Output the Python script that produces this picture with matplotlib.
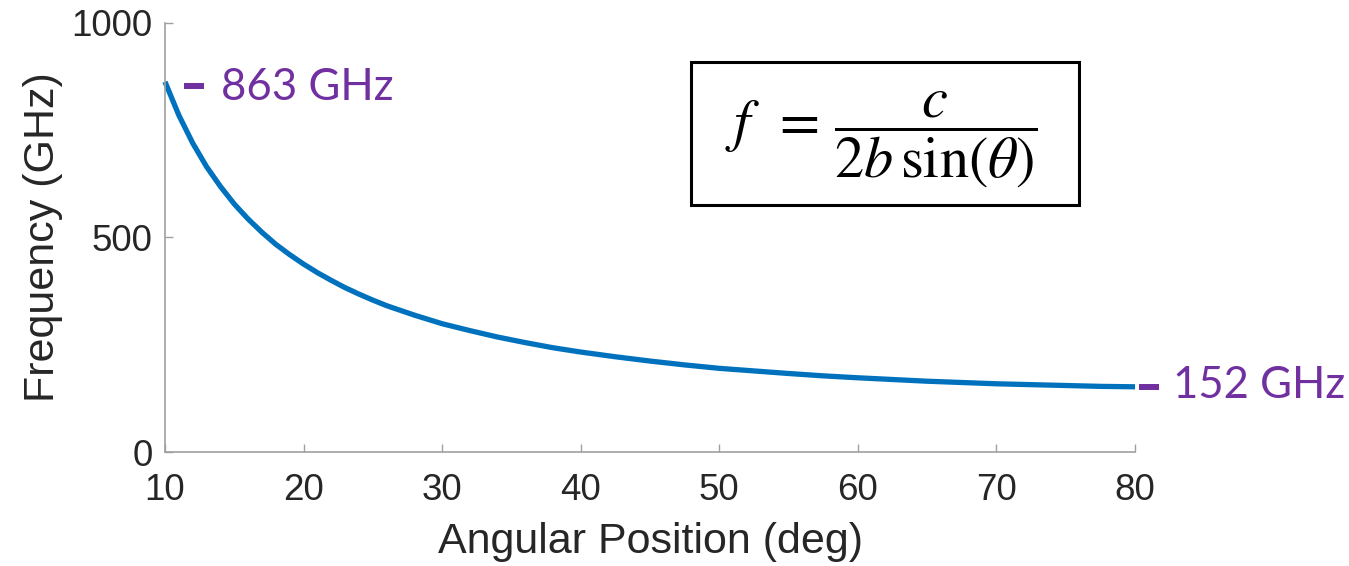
import matplotlib
matplotlib.use("Agg")
import matplotlib.pyplot as plt
from matplotlib.patches import Rectangle
from matplotlib.transforms import ScaledTranslation

# Data
angle_deg = [10, 11, 12, 13, 14, 15, 16, 17, 18, 19, 20, 21, 22, 23, 24, 25, 26, 27, 28, 29, 30,
             32, 34, 36, 38, 40, 42.5, 45, 47.5, 50, 52.5, 55, 57.5, 60, 62.5, 65, 67.5, 70,
             72.5, 75, 77.5, 80]
freq_ghz = [863, 785, 720, 665, 619, 578, 543, 512, 484, 460, 438, 418, 400, 383, 368, 354, 341,
            330, 319, 309, 299, 283, 268, 255, 243, 233, 222, 212, 203, 195, 189, 183, 177.5,
            173, 169, 165, 162, 159, 157, 155, 153, 152]
x_ticks = [10, 20, 30, 40, 50, 60, 70, 80]
y_ticks = [0, 500, 1000]
start_label = "863 GHz"
end_label = "152 GHz"
x_label = "Angular Position (deg)"
y_label = "Frequency (GHz)"
formula = r"$f\ \,=\,\dfrac{c}{2b\,\sin(\theta)}$"

plt.rcParams['font.family'] = ['Liberation Sans', 'DejaVu Sans']
plt.rcParams['mathtext.fontset'] = 'stix'

fig = plt.figure(figsize=(13.49, 5.66), dpi=100)
ax = fig.add_axes([0.1223, 0.2014, 0.7191, 0.758])

line_color = '#0072BD'
purple = '#7030A0'
gray = '#a0a0a0'
text_col = '#262626'

ax.plot(angle_deg, freq_ghz, color=line_color, lw=3.8, solid_capstyle='butt',
        solid_joinstyle='round', clip_on=False)

ax.set_xlim(10, 80)
ax.set_ylim(0, 1000)
ax.set_xticks(x_ticks)
ax.set_yticks(y_ticks)
for s in ['top', 'right']:
    ax.spines[s].set_visible(False)
for s in ['left', 'bottom']:
    ax.spines[s].set_color(gray)
    ax.spines[s].set_linewidth(1.2)
ax.tick_params(axis='both', direction='in', length=6, width=1.0, color=gray,
               labelsize=26.5, labelcolor=text_col)
ax.tick_params(axis='x', pad=15)
ax.tick_params(axis='y', pad=9)
ax.set_xlabel(x_label, fontsize=31, color=text_col, labelpad=10)
ax.set_ylabel(y_label, fontsize=31, color=text_col, labelpad=6)

# annotations: (x, y, label, dash offset pt, dash dy pt, text offset pt, text baseline dy pt)
annots = [(angle_deg[0], freq_ghz[0], start_label, 21, -3, 40, -13),
          (angle_deg[-1], freq_ghz[-1], end_label, 10, 0, 27.5, -8)]
for (xv, yv, lab, ddx, ddy, tdx, tdy) in annots:
    tr = ax.transData + ScaledTranslation(ddx / 72, ddy / 72, fig.dpi_scale_trans)
    ax.plot([xv], [yv], marker='_', ms=15, mew=4.3, color=purple, transform=tr, clip_on=False)
    ax.annotate(lab, xy=(xv, yv), xytext=(tdx, tdy), textcoords='offset points',
                ha='left', va='baseline', fontsize=31.5, color=purple,
                family=['Lato', 'DejaVu Sans'], annotation_clip=False)

# formula box
rect = Rectangle((0.5122, 0.6378), 0.2876, 0.2527, transform=fig.transFigure,
                 fill=True, facecolor='white', edgecolor='black', lw=2.2)
fig.add_artist(rect)
fig.text(0.5122 + 0.2876 / 2 - 0.003, 0.6378 + 0.2527 / 2 - 0.011, formula, ha='center',
         va='center', fontsize=42, color='black')

fig.savefig('out.png', dpi=100)
